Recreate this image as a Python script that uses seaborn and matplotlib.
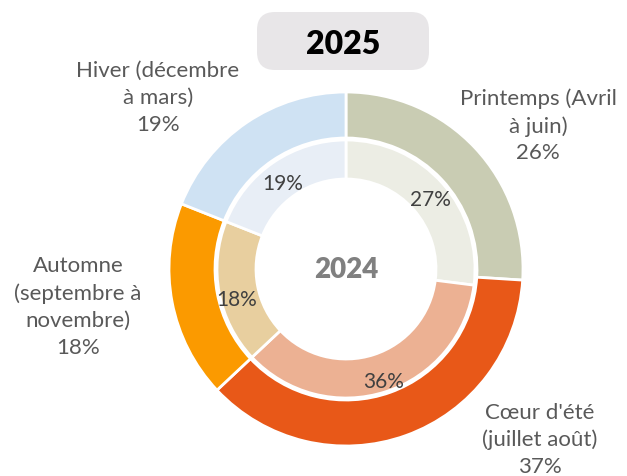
import matplotlib
matplotlib.use("Agg")
import matplotlib.pyplot as plt
import seaborn as sns
from matplotlib.patches import FancyBboxPatch

sns.set_theme(style="white")
plt.rcParams['font.family'] = ['Lato', 'DejaVu Sans']

categories = ["Printemps (Avril\nà juin)", "Cœur d'été\n(juillet août)",
              "Automne\n(septembre à\nnovembre)", "Hiver (décembre\nà mars)"]
values_2025 = [26, 37, 18, 19]
values_2024 = [27, 36, 18, 19]
colors_2025 = ["#c9ccb3", "#e85818", "#fb9a00", "#cfe2f3"]
colors_2024 = ["#ecede4", "#ecb193", "#e8cf9f", "#e8eef6"]

fig = plt.figure(figsize=(6.27, 4.77), dpi=100)
ax = fig.add_axes([0, 0, 1, 1])

cx, cy = 346, 207
R_out, R_mid, R_in = 177, 131, 90

ax.pie(values_2025, colors=colors_2025, startangle=90, counterclock=False,
       center=(cx, cy), radius=R_out, frame=True,
       wedgeprops=dict(width=R_out - R_mid, edgecolor='white', linewidth=2))
ax.pie(values_2024, colors=colors_2024, startangle=90, counterclock=False,
       center=(cx, cy), radius=R_mid - 2, frame=True,
       wedgeprops=dict(width=R_mid - 2 - R_in, edgecolor='white', linewidth=2))
ax.set_xlim(0, 627)
ax.set_ylim(0, 477)
ax.set_aspect('equal')
ax.axis('off')

# outer labels
outer_pos = [(538, 351), (540, 37), (78, 170), (158, 379)]
for lab, v, (x, y) in zip(categories, values_2025, outer_pos):
    ax.text(x, y, f"{lab}\n{v}%", ha='center', va='center', fontsize=16,
            color='#595959', linespacing=1.42)

# inner labels
inner_pos = [(430, 277), (384, 95), (237, 177), (283, 293)]
for v, (x, y) in zip(values_2024, inner_pos):
    ax.text(x, y, f"{v}%", ha='center', va='center', fontsize=15, color='#404040')

ax.text(cx, cy, "2024", ha='center', va='center', fontsize=20,
        fontweight='heavy', color='#808080')

box = FancyBboxPatch((257, 406), 172, 58, boxstyle="round,pad=0,rounding_size=18",
                     facecolor='#e8e6e8', edgecolor='none')
ax.add_patch(box)
ax.text(343, 433, "2025", ha='center', va='center', fontsize=23,
        fontweight='heavy', color='black')

fig.savefig("out.png", dpi=100)
